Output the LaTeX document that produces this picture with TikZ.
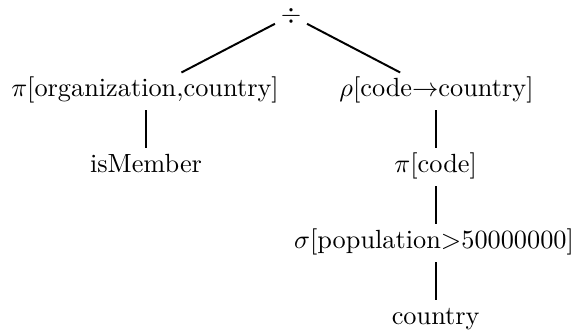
\documentclass[tikz,border=0pt]{standalone}
\begin{document}
\begin{tikzpicture}[x=0.3802pt,y=-0.3802pt,
  tnode/.style={inner sep=2pt,text height=6.75pt,text depth=3.3pt,anchor=base},
  rootnode/.style={inner sep=2pt,text height=5.83pt,text depth=0.83pt,anchor=base},
  tedge/.style={line width=0.75pt}]
\useasboundingbox (0,0) rectangle (578,331);
\node[rootnode] (root) at (291,22) {$\div$};
\node[tnode] (left) at (145,96) {$\pi$[organization,country]};
\node[tnode] (right) at (436.5,96) {$\rho$[code$\rightarrow$country]};
\node[tnode] (ismember) at (146,172) {isMember};
\node[tnode] (picode) at (435.7,172) {$\pi$[code]};
\node[tnode] (sigma) at (434,248) {$\sigma$[population$>$50000000]};
\node[tnode] (country) at (435.7,324) {country};
\draw[tedge] (root) -- (left);
\draw[tedge] (root) -- (right);
\draw[tedge] (left.south -| ismember) -- (ismember);
\draw[tedge] (right.south -| picode) -- (picode);
\draw[tedge] (picode) -- (sigma.north -| picode);
\draw[tedge] (sigma.south -| country) -- (country);
\end{tikzpicture}
\end{document}
